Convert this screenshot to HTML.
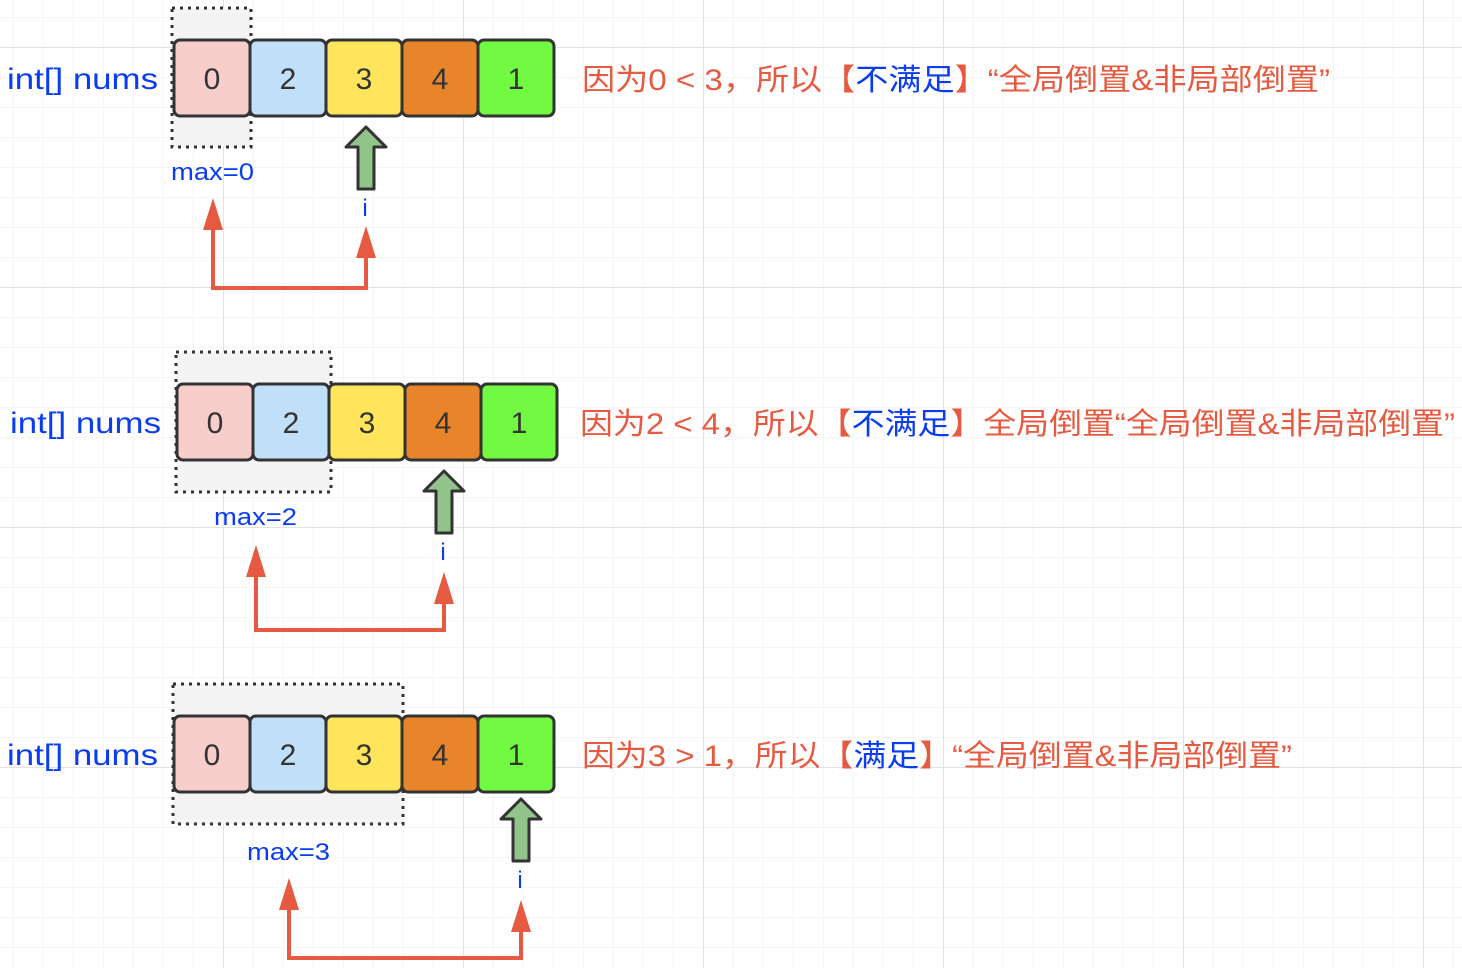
<!DOCTYPE html>
<html><head><meta charset="utf-8"><style>
html,body{margin:0;padding:0;background:#fff}
svg{display:block}
text{font-family:"Liberation Sans","Noto Sans CJK SC",sans-serif}
</style></head><body>
<svg width="1462" height="968" viewBox="0 0 1462 968" xmlns="http://www.w3.org/2000/svg">
<defs>
<pattern id="g" x="13" y="17" width="30" height="30" patternUnits="userSpaceOnUse">
<path d="M0 0H30M0 0V30" stroke="#ececec" stroke-width="1" fill="none"/>
</pattern>
<pattern id="G" x="223" y="47" width="240" height="240" patternUnits="userSpaceOnUse">
<path d="M0 0H240M0 0V240" stroke="#e2e2e2" stroke-width="2" fill="none"/>
</pattern>
<g id="cells">
<rect x="0" y="0" width="76" height="76" rx="6" fill="#f8cecc" stroke="#333" stroke-width="3"/>
<rect x="76" y="0" width="76" height="76" rx="6" fill="#c0dff8" stroke="#333" stroke-width="3"/>
<rect x="152" y="0" width="76" height="76" rx="6" fill="#ffe55c" stroke="#333" stroke-width="3"/>
<rect x="228" y="0" width="76" height="76" rx="6" fill="#e8842a" stroke="#333" stroke-width="3"/>
<rect x="304" y="0" width="76" height="76" rx="6" fill="#72f942" stroke="#333" stroke-width="3"/>
<g font-size="30" fill="#333" text-anchor="middle">
<text x="38" y="49">0</text><text x="114" y="49">2</text><text x="190" y="49">3</text><text x="266" y="49">4</text><text x="342" y="49">1</text>
</g>
</g>
<path id="up" d="M-8 60V18H-20L0 -2L20 18H8V60Z" fill="#92c38b" stroke="#333" stroke-width="3" stroke-linejoin="round"/>
</defs>
<rect width="1462" height="968" fill="url(#g)"/>
<rect width="1462" height="968" fill="url(#G)"/>

<!-- Row 1 -->
<rect x="172" y="8" width="79" height="139" fill="#f4f4f4" stroke="#333" stroke-width="3" stroke-dasharray="3 5"/>
<use href="#cells" x="174" y="40"/>
<text x="7" y="89" font-size="30" fill="#0a3cf0" textLength="151" lengthAdjust="spacingAndGlyphs">int[] nums</text>
<use href="#up" x="366" y="129"/>
<text x="171" y="180" font-size="24" fill="#0a3cf0" textLength="83" lengthAdjust="spacingAndGlyphs">max=0</text>
<text x="365" y="216" font-size="24" fill="#0a3cf0" text-anchor="middle">i</text>
<path d="M213 228V288H366V258" stroke="#e55a40" stroke-width="4" fill="none"/>
<path d="M213 198L203 230H223Z M366 226L356 258H376Z" fill="#e55a40"/>
<text x="582" y="90" font-size="30" fill="#e55a40" textLength="748" lengthAdjust="spacingAndGlyphs">因为0 &lt; 3，所以【<tspan fill="#0a3cf0">不满足</tspan>】“全局倒置&amp;非局部倒置”</text>

<!-- Row 2 -->
<rect x="176" y="352" width="155" height="140" fill="#f4f4f4" stroke="#333" stroke-width="3" stroke-dasharray="3 5"/>
<use href="#cells" x="177" y="384"/>
<text x="10" y="433" font-size="30" fill="#0a3cf0" textLength="151" lengthAdjust="spacingAndGlyphs">int[] nums</text>
<use href="#up" x="444" y="473"/>
<text x="214" y="525" font-size="24" fill="#0a3cf0" textLength="83" lengthAdjust="spacingAndGlyphs">max=2</text>
<text x="443" y="560" font-size="24" fill="#0a3cf0" text-anchor="middle">i</text>
<path d="M256 575V630H444V603" stroke="#e55a40" stroke-width="4" fill="none"/>
<path d="M256 545L246 577H266Z M444 572L434 604H454Z" fill="#e55a40"/>
<text x="580" y="434" font-size="30" fill="#e55a40" textLength="875" lengthAdjust="spacingAndGlyphs">因为2 &lt; 4，所以【<tspan fill="#0a3cf0">不满足</tspan>】全局倒置“全局倒置&amp;非局部倒置”</text>

<!-- Row 3 -->
<rect x="173" y="684" width="230" height="140" fill="#f4f4f4" stroke="#333" stroke-width="3" stroke-dasharray="3 5"/>
<use href="#cells" x="174" y="716"/>
<text x="7" y="765" font-size="30" fill="#0a3cf0" textLength="151" lengthAdjust="spacingAndGlyphs">int[] nums</text>
<use href="#up" x="521" y="801"/>
<text x="247" y="860" font-size="24" fill="#0a3cf0" textLength="83" lengthAdjust="spacingAndGlyphs">max=3</text>
<text x="520" y="888" font-size="24" fill="#0a3cf0" text-anchor="middle">i</text>
<path d="M289 908V958H521V930" stroke="#e55a40" stroke-width="4" fill="none"/>
<path d="M289 878L279 910H299Z M521 900L511 932H531Z" fill="#e55a40"/>
<text x="582" y="766" font-size="30" fill="#e55a40" textLength="710" lengthAdjust="spacingAndGlyphs">因为3 &gt; 1，所以【<tspan fill="#0a3cf0">满足</tspan>】“全局倒置&amp;非局部倒置”</text>
</svg>
</body></html>
